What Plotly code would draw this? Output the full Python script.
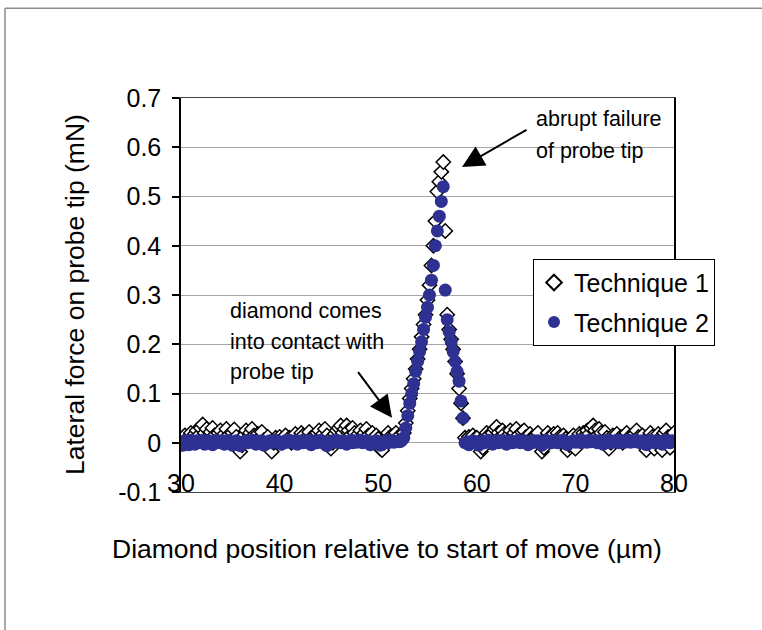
import plotly.graph_objects as go

# Lateral force (mN), sampled every 0.2 um from 30 to 80 um
technique_1 = [
    0.005, 0.01, 0.015, 0.008, 0.012, 0.02, 0.01, 0.018, 0.025, 0.015,
    0.03, 0.037, 0.02, 0.028, 0.012, 0.022, 0.03, 0.015, 0.005, 0.02,
    0.025, 0.01, 0.018, 0.028, 0.015, 0.005, 0.02, 0.027, 0.012, 0.0,
    -0.018, -0.005, 0.015, 0.025, 0.01, 0.02, 0.028, 0.015, 0.005, 0.018,
    0.01, 0.022, 0.005, 0.0, 0.012, -0.005, -0.018, 0.0, 0.01, 0.005,
    0.012, 0.0, 0.008, 0.015, 0.005, 0.01, 0.0, 0.012, 0.018, 0.005,
    0.01, 0.02, 0.015, 0.005, 0.012, 0.022, 0.01, 0.0, 0.015, 0.02,
    0.025, 0.012, 0.018, 0.028, 0.015, 0.005, -0.012, 0.0, 0.018, 0.025,
    0.03, 0.035, 0.02, 0.028, 0.035, 0.025, 0.015, 0.03, 0.02, 0.01,
    0.018, 0.025, 0.012, 0.02, 0.028, 0.015, 0.005, 0.02, 0.01, 0.015,
    0.008, -0.012, -0.015, 0.0, 0.01, 0.02, 0.012, 0.005, 0.015, 0.02,
    0.01, 0.015, 0.01, 0.02, 0.04, 0.065, 0.09, 0.11, 0.13, 0.15,
    0.17, 0.19, 0.215, 0.24, 0.26, 0.29, 0.32, 0.36, 0.40, 0.45,
    0.51, 0.53, 0.55, 0.57, 0.43, 0.26, 0.23, 0.21, 0.19, 0.165,
    0.14, 0.11, 0.08, 0.05, 0.01, 0.005, 0.012, 0.0, 0.015, 0.008,
    0.01, 0.0, -0.018, -0.01, 0.012, 0.02, 0.015, 0.005, 0.02, 0.028,
    0.032, 0.02, 0.012, 0.025, 0.018, 0.005, 0.015, 0.025, 0.01, 0.02,
    0.028, 0.015, 0.005, 0.022, 0.025, 0.012, 0.0, 0.018, 0.01, 0.005,
    0.015, 0.02, 0.0, -0.018, -0.01, 0.01, 0.02, 0.012, 0.005, 0.018,
    0.01, 0.02, 0.012, 0.0, 0.015, 0.008, -0.015, -0.005, 0.01, 0.015,
    -0.012, 0.005, 0.018, 0.01, 0.02, 0.015, 0.025, 0.018, 0.03, 0.035,
    0.025, 0.015, 0.028, 0.02, 0.005, 0.022, 0.01, -0.012, 0.0, 0.015,
    0.01, 0.018, 0.005, 0.012, 0.0, 0.015, 0.02, 0.01, 0.005, 0.012,
    0.018, 0.025, 0.012, 0.005, 0.015, 0.0, -0.015, 0.01, 0.02, 0.012,
    -0.012, 0.005, 0.018, 0.01, -0.015, 0.02, 0.025, 0.012, -0.01, 0.015,
    0.02,
]

technique_2 = [
    0.002, -0.005, 0.004, 0.0, -0.004, 0.005, 0.001, -0.003, 0.004, 0.0,
    0.002, 0.005, -0.003, 0.001, 0.004, 0.0, -0.004, 0.002, 0.005, 0.001,
    0.0, 0.004, -0.003, 0.002, 0.005, 0.0, -0.005, 0.001, 0.004, 0.002,
    -0.006, -0.003, 0.001, 0.004, 0.0, 0.002, 0.005, 0.001, -0.003, 0.002,
    0.0, 0.004, -0.005, -0.003, 0.001, 0.004, 0.0, 0.002, 0.005, 0.001,
    0.002, -0.003, 0.0, 0.004, 0.001, 0.005, 0.002, 0.0, 0.004, -0.003,
    0.001, 0.004, 0.0, 0.002, 0.005, 0.001, -0.004, 0.002, 0.004, 0.0,
    0.002, 0.005, 0.001, -0.003, -0.006, 0.0, 0.002, 0.004, 0.001, 0.005,
    0.002, 0.0, 0.004, 0.001, -0.003, 0.002, 0.005, 0.0, 0.004, 0.001,
    0.002, 0.005, 0.0, 0.002, 0.004, 0.001, -0.004, 0.002, 0.0, 0.004,
    0.001, -0.005, -0.003, 0.002, 0.004, 0.0, 0.002, 0.005, 0.001, 0.002,
    0.003, 0.002, 0.005, 0.01, 0.03, 0.055, 0.08, 0.10, 0.12, 0.145,
    0.165, 0.185, 0.205, 0.23, 0.255, 0.275, 0.30, 0.33, 0.36, 0.40,
    0.43, 0.46, 0.49, 0.52, 0.31, 0.25, 0.225, 0.205, 0.185, 0.165,
    0.145, 0.125, 0.085, 0.05, 0.0, 0.002, -0.004, 0.001, 0.004, 0.0,
    0.002, -0.005, 0.001, 0.004, 0.0, 0.002, 0.005, 0.001, -0.003, 0.002,
    0.004, 0.0, 0.002, 0.005, 0.001, -0.003, 0.002, 0.004, 0.0, 0.001,
    0.002, 0.005, 0.0, 0.002, 0.004, 0.001, -0.004, 0.002, 0.0, 0.004,
    0.001, 0.004, 0.0, -0.005, 0.002, 0.005, 0.001, 0.002, 0.0, 0.004,
    0.002, 0.0, 0.004, 0.001, 0.005, 0.002, -0.004, 0.0, 0.002, 0.004,
    0.001, 0.002, 0.005, 0.0, 0.004, 0.002, 0.001, 0.005, 0.002, 0.004,
    0.002, 0.0, 0.004, 0.001, -0.003, 0.002, 0.005, 0.0, 0.004, 0.001,
    0.002, 0.005, 0.0, 0.002, 0.004, 0.001, 0.002, 0.005, 0.001, 0.004,
    0.002, 0.005, 0.001, 0.0, 0.004, 0.002, -0.004, 0.001, 0.005, 0.002,
    0.0, 0.004, 0.002, 0.001, -0.003, 0.004, 0.005, 0.002, 0.0, 0.004,
    0.002,
]

# uniform sampling positions (um)
position_um = [round(30 + 0.2 * i, 1) for i in range(len(technique_1))]

x_ticks = [30, 40, 50, 60, 70, 80]
y_ticks = [0.7, 0.6, 0.5, 0.4, 0.3, 0.2, 0.1, 0.0, -0.1]
y_tick_text = ["0.7", "0.6", "0.5", "0.4", "0.3", "0.2", "0.1", "0", "-0.1"]

FONT = "Liberation Sans, Arial, Helvetica, sans-serif"
NAVY = "#2E3192"

fig = go.Figure()
fig.add_trace(go.Scatter(
    x=position_um, y=technique_1, mode="markers", name="Technique 1",
    legendgroup="t1",
    marker=dict(symbol="diamond", size=11, color="white",
                line=dict(color="black", width=1.5)),
))
fig.add_trace(go.Scatter(
    x=position_um, y=technique_2, mode="markers", name="Technique 2",
    legendgroup="t2",
    marker=dict(symbol="circle", size=13, color=NAVY, line=dict(width=0)),
))

fig.update_layout(
    width=762, height=630,
    margin=dict(l=181, r=88, t=98, b=138),
    paper_bgcolor="white", plot_bgcolor="white",
    font=dict(family=FONT, color="black", size=20),
    showlegend=True,
    legend=dict(
        x=0.714, y=0.592, xanchor="left", yanchor="top",
        bgcolor="white", bordercolor="black", borderwidth=1,
        font=dict(size=25, family=FONT, color="black"),
        tracegroupgap=4, traceorder="grouped",
        itemsizing="constant",
    ),
    xaxis=dict(
        range=[30, 80], tickvals=x_ticks, ticktext=[str(v) for v in x_ticks],
        ticks="", ticklabelposition="outside", ticklabelstandoff=-31,
        showgrid=False, zeroline=False,
        showline=True, linecolor="#444444", linewidth=1, mirror=True,
        tickfont=dict(size=25, family=FONT, color="black"),
    ),
    yaxis=dict(
        range=[-0.1, 0.7], tickvals=y_ticks, ticktext=y_tick_text,
        ticks="outside", ticklen=7, tickcolor="black", tickwidth=1.5,
        ticklabelstandoff=6,
        showgrid=True, gridcolor="#A6A6A6", gridwidth=1, zeroline=False,
        showline=True, linecolor="black", linewidth=1.5, mirror=True,
        tickfont=dict(size=25, family=FONT, color="black"),
    ),
)

# outer frame (gray) at left and top
fig.add_shape(type="line", xref="paper", yref="paper",
              x0=-0.357, x1=-0.357, y0=1.228, y1=-0.36,
              line=dict(color="#8C8C8C", width=1.5))
fig.add_shape(type="line", xref="paper", yref="paper",
              x0=-0.357, x1=1.2, y0=1.228, y1=1.228,
              line=dict(color="#8C8C8C", width=1.5))

# axis titles
fig.add_annotation(text="Diamond position relative to start of move (µm)",
                   xref="paper", yref="paper", x=0.418, y=-0.145,
                   xanchor="center", yanchor="middle", showarrow=False,
                   font=dict(size=26.5, family=FONT))
fig.add_annotation(text="Lateral force on probe tip (mN)",
                   xref="paper", yref="paper", x=-0.215, y=0.5,
                   xanchor="center", yanchor="middle", showarrow=False,
                   textangle=-90, font=dict(size=26.5, family=FONT))

# callout texts
for txt, xv, yv in [("abrupt failure", 65.8, 0.658),
                    ("of probe tip", 65.8, 0.593),
                    ("diamond comes", 34.77, 0.268),
                    ("into contact with", 34.77, 0.205),
                    ("probe tip", 34.77, 0.144)]:
    fig.add_annotation(text=txt, x=xv, y=yv, xanchor="left", yanchor="middle",
                       showarrow=False, font=dict(size=21.5, family=FONT))

# arrows
fig.add_annotation(text="", x=58.5, y=0.56, ax=66, ay=-38,
                   showarrow=True, arrowhead=2, arrowsize=2.2, arrowwidth=2,
                   arrowcolor="black")
fig.add_annotation(text="", x=51.4, y=0.051, ax=-35, ay=-47,
                   showarrow=True, arrowhead=2, arrowsize=2.2, arrowwidth=2,
                   arrowcolor="black")

fig.write_html("out.html",
               config={"displayModeBar": False},
               post_script="document.body.style.margin='0px';")
